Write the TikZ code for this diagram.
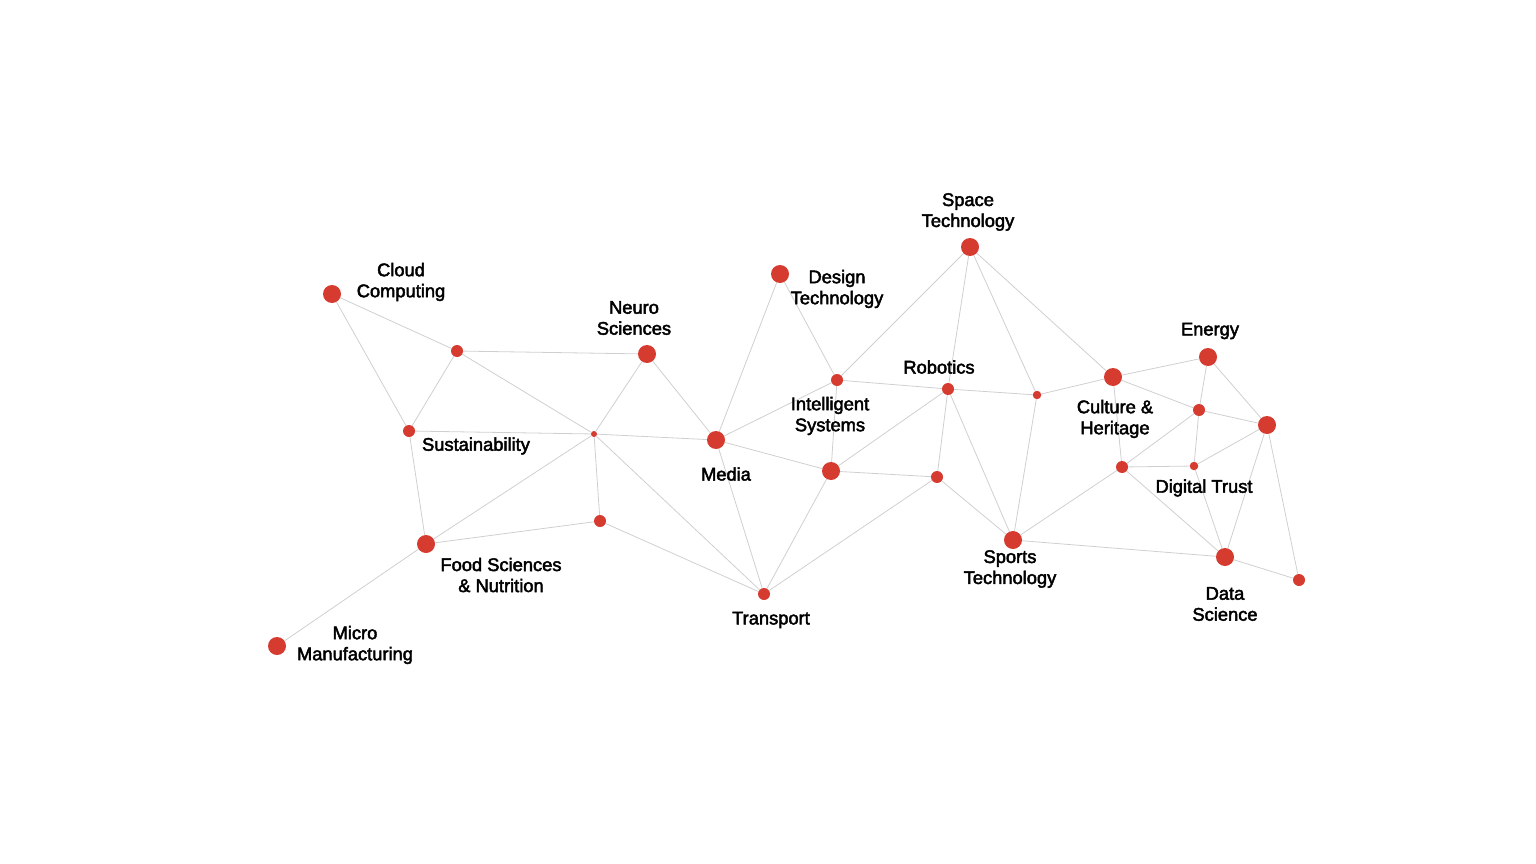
\documentclass[tikz,border=0pt]{standalone}
\usepackage{fontspec}
\usetikzlibrary{backgrounds}
\newfontfamily\labelfont{Liberation Sans}[FakeBold=2.5]
\definecolor{nodered}{HTML}{D63B30}
\tikzset{
  link/.style={draw=black!19,line width=0.8pt},
  bignode/.style={circle,fill=nodered,inner sep=0pt,minimum size=18pt},
  midnode/.style={circle,fill=nodered,inner sep=0pt,minimum size=12pt},
  smallnode/.style={circle,fill=nodered,inner sep=0pt,minimum size=8.5pt},
  tinynode/.style={circle,fill=nodered,inner sep=0pt,minimum size=6pt},
  lbl/.style={align=center,inner sep=0pt,font=\labelfont\fontsize{18.3}{21}\selectfont}
}

\begin{document}
\begin{tikzpicture}[x=1pt,y=-1pt]
    \useasboundingbox (0,0) rectangle (1536,864);

    % topic nodes
    \node[bignode] (cloud) at (332,294) {};
    \node[bignode] (neuro) at (647,354) {};
    \node[midnode] (sust) at (409,431) {};
    \node[bignode] (media) at (716,440) {};
    \node[bignode] (food) at (426,544) {};
    \node[bignode] (micro) at (277,646) {};
    \node[midnode] (transport) at (764,594) {};
    \node[bignode] (design) at (780,274) {};
    \node[bignode] (intel) at (831,471) {};
    \node[bignode] (space) at (970,247) {};
    \node[midnode] (robot) at (948,389) {};
    \node[bignode] (sports) at (1013,540) {};
    \node[bignode] (culture) at (1113,377) {};
    \node[bignode] (energy) at (1208,357) {};
    \node[smallnode] (digital) at (1194,466) {};
    \node[bignode] (data) at (1225,557) {};

    % junctions
    \node[midnode] (j1) at (457,351) {};
    \node[tinynode] (j2) at (594,434) {};
    \node[midnode] (j3) at (600,521) {};
    \node[midnode] (j4) at (837,380) {};
    \node[midnode] (j5) at (937,477) {};
    \node[smallnode] (j6) at (1037,395) {};
    \node[midnode] (j7) at (1199,410) {};
    \node[bignode] (j8) at (1267,425) {};
    \node[midnode] (j9) at (1122,467) {};
    \node[midnode] (j10) at (1299,580) {};

    % labels
    \node[lbl] (cloudtxt) at (401,282) {Cloud\\Computing};
    \node[lbl] (neurotxt) at (634,318) {Neuro\\Sciences};
    \node[lbl] (susttxt) at (476,446) {Sustainability};
    \node[lbl] (mediatxt) at (726,474) {Media};
    \node[lbl] (foodtxt) at (501,575) {Food Sciences\\\& Nutrition};
    \node[lbl] (microtxt) at (355,645) {Micro\\Manufacturing};
    \node[lbl] (transporttxt) at (771,620) {Transport};
    \node[lbl] (designtxt) at (837,289) {Design\\Technology};
    \node[lbl] (inteltxt) at (830,416) {Intelligent\\Systems};
    \node[lbl] (spacetxt) at (968,212) {Space\\Technology};
    \node[lbl] (robottxt) at (939,367) {Robotics};
    \node[lbl] (sportstxt) at (1010,569) {Sports\\Technology};
    \node[lbl] (culturetxt) at (1115,419) {Culture \&\\Heritage};
    \node[lbl] (energytxt) at (1210,331) {Energy};
    \node[lbl] (digitaltxt) at (1204,488) {Digital Trust};
    \node[lbl] (datatxt) at (1225,604) {Data\\Science};

    \begin{scope}[on background layer]
      \foreach \a/\b in {cloud/j1,cloud/sust,j1/sust,j1/neuro,j1/j2,sust/j2,sust/food,
          j2/neuro,j2/media,j2/food,j2/j3,j2/transport,food/j3,food/micro,j3/transport,
          neuro/media,media/design,media/j4,media/intel,media/transport,
          design/j4,j4/space,j4/robot,j4/intel,intel/robot,intel/j5,intel/transport,
          transport/j5,space/robot,space/j6,space/culture,robot/j6,robot/j5,robot/sports,
          j5/sports,j6/sports,j6/culture,sports/j9,sports/data,
          culture/energy,culture/j7,culture/j9,energy/j7,energy/j8,j7/j8,j7/j9,j7/digital,
          j9/digital,j9/data,digital/j8,digital/data,j8/data,j8/j10,data/j10}
        \draw[link] (\a) -- (\b);
    \end{scope}
  \end{tikzpicture}
\end{document}
